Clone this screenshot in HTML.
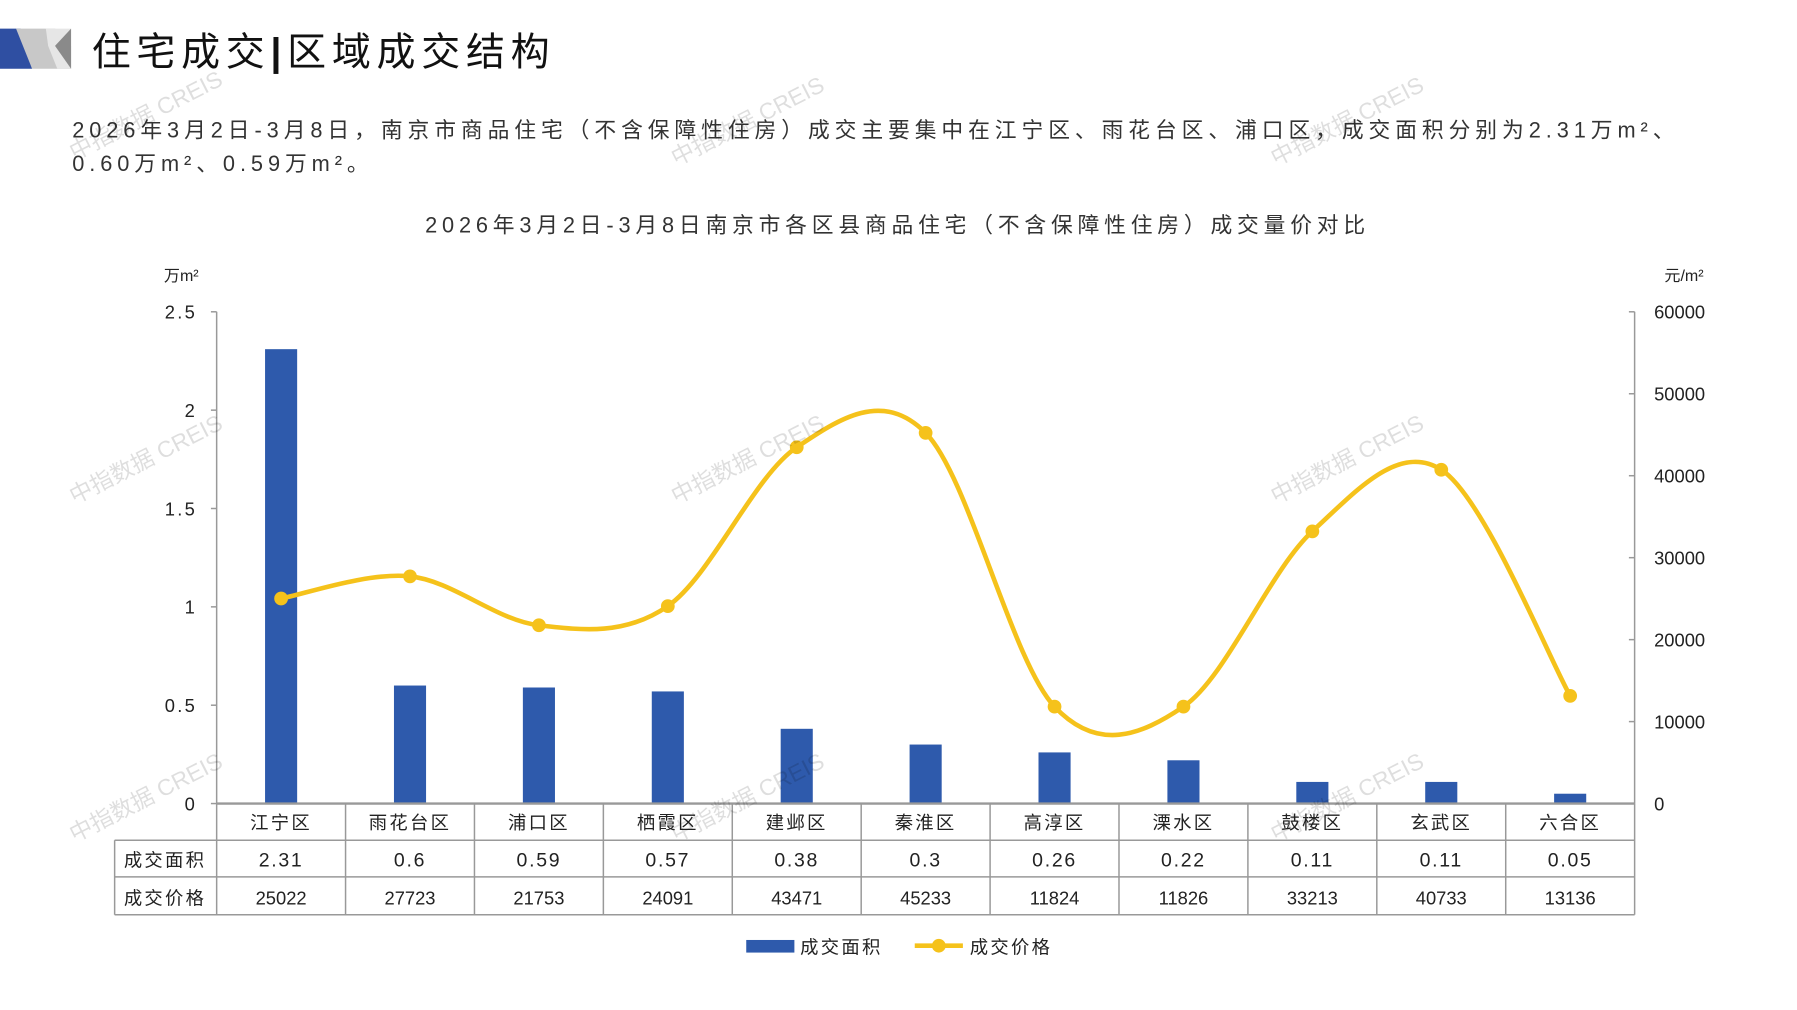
<!DOCTYPE html>
<html><head><meta charset="utf-8">
<style>
html,body{margin:0;padding:0;background:#fff;width:1797px;height:1010px;overflow:hidden}
#w{position:absolute;left:0;top:0;width:1548px;height:870px;transform:scale(1.1463,1.1463);transform-origin:0 0}
svg text{font-family:"Liberation Sans","Noto Sans CJK SC",sans-serif}
</style></head><body>
<div id="w">
<svg id="s" width="1548" height="870" viewBox="0 0 1548 870" xmlns="http://www.w3.org/2000/svg">
<polygon points="0,25 18,25 28,60 0,60" fill="#2F4FA2"/>
<polygon points="14,25 48,25 62,40 62,60 28,60" fill="#C8C8C8"/>
<polygon points="40,25 62,25 62,60 50,60 42,40" fill="#E6E6E6"/>
<polygon points="48,40 62,25 62,60" fill="#8A8A8A"/>
<text x="80" y="57" font-size="34" fill="#111" letter-spacing="5" font-family="'Noto Sans CJK SC',sans-serif">住宅成交<tspan font-weight="bold">|</tspan>区域成交结构</text>
<text x="63" y="120" font-size="19" fill="#333" letter-spacing="4.3">2026年3月2日-3月8日，南京市商品住宅（不含保障性住房）成交主要集中在江宁区、雨花台区、浦口区，成交面积分别为2.31万m²、</text>
<text x="63" y="149" font-size="19" fill="#333" letter-spacing="4.3">0.60万m²、0.59万m²。</text>
<text x="783" y="203" font-size="19" fill="#333" text-anchor="middle" letter-spacing="4.2">2026年3月2日-3月8日南京市各区县商品住宅（不含保障性住房）成交量价对比</text>
<text x="143" y="245" font-size="14" fill="#222">万m²</text>
<text x="1452" y="245" font-size="14" fill="#222">元/m²</text>
<g id="g"></g>
</svg>
</div>
<script>
var g=document.getElementById('g'),h='';
function T(x,y,t,s,a,c,ls){h+='<text x="'+x+'" y="'+y+'" font-size="'+(s||16)+'" fill="'+(c||'#222')+'" text-anchor="'+(a||'middle')+'" letter-spacing="'+(ls||0)+'">'+t+'</text>';}
function L(x1,y1,x2,y2,c,w){h+='<line x1="'+x1+'" y1="'+y1+'" x2="'+x2+'" y2="'+y2+'" stroke="'+(c||'#999')+'" stroke-width="'+(w||1.3)+'"/>';}
var lt=['2.5','2','1.5','1','0.5','0'],rt=['60000','50000','40000','30000','20000','10000','0'];
for(var i=0;i<6;i++){var y=272+i*85.8;T(172,y+6,lt[i],16,'end',0,2);L(184,y,189,y);}
for(var i=0;i<7;i++){var y=272+i*71.5;T(1443,y+6,rt[i],16,'start');L(1421,y,1426,y);}
L(189,272,189,701);L(1426,272,1426,701);
var cats=['江宁区','雨花台区','浦口区','栖霞区','建邺区','秦淮区','高淳区','溧水区','鼓楼区','玄武区','六合区'];
var ar=[2.31,0.6,0.59,0.57,0.38,0.3,0.26,0.22,0.11,0.11,0.05];
var pr=[25022,27723,21753,24091,43471,45233,11824,11826,33213,40733,13136];
var w=(1426-189)/11,P=[];
for(var i=0;i<11;i++){var cx=189+w*(i+0.5),bh=ar[i]/2.5*429;
h+='<rect x="'+(cx-14)+'" y="'+(701-bh)+'" width="28" height="'+bh+'" fill="#2E5AAC"/>';
T(cx,723,cats[i],16,0,0,2);T(cx,756,ar[i],17,0,0,1.5);T(cx,789,pr[i],16);
P.push([cx,701-pr[i]/60000*429]);}
L(189,701,1426,701,'#999',2);
L(100,733,1426,733);L(100,765,1426,765);L(100,798,1426,798);
L(100,733,100,798);
for(var i=0;i<=11;i++){var x=189+w*i;L(x,701,x,798);}
T(144,756,'成交面积',16,0,0,2);T(144,789,'成交价格',16,0,0,2);
var d='M'+P[0][0]+','+P[0][1];
for(var i=0;i<10;i++){var p0=P[Math.max(i-1,0)],p1=P[i],p2=P[i+1],p3=P[Math.min(i+2,10)];
d+=' C'+(p1[0]+(p2[0]-p0[0])/6)+','+(p1[1]+(p2[1]-p0[1])/6)+' '+(p2[0]-(p3[0]-p1[0])/6)+','+(p2[1]-(p3[1]-p1[1])/6)+' '+p2[0]+','+p2[1];}
h+='<path d="'+d+'" fill="none" stroke="#F5C21B" stroke-width="4"/>';
for(var i=0;i<11;i++)h+='<circle cx="'+P[i][0]+'" cy="'+P[i][1]+'" r="6" fill="#F5C21B"/>';
h+='<rect x="651" y="820" width="42" height="11" fill="#2E5AAC"/>';T(698,832,'成交面积',16,'start',0,2);
L(798,825,840,825,'#F5C21B',4);h+='<circle cx="819" cy="825" r="6" fill="#F5C21B"/>';T(846,832,'成交价格',16,'start',0,2);
var wm=[[65,140],[590,145],[1113,145],[65,440],[590,440],[1113,440],[65,735],[590,735],[1113,735]];
for(var i=0;i<wm.length;i++)h+='<text x="'+wm[i][0]+'" y="'+wm[i][1]+'" font-size="20" fill="#000" fill-opacity="0.13" transform="rotate(-27 '+wm[i][0]+' '+wm[i][1]+')">中指数据 CREIS</text>';
g.innerHTML=h;
</script>
</body></html>
